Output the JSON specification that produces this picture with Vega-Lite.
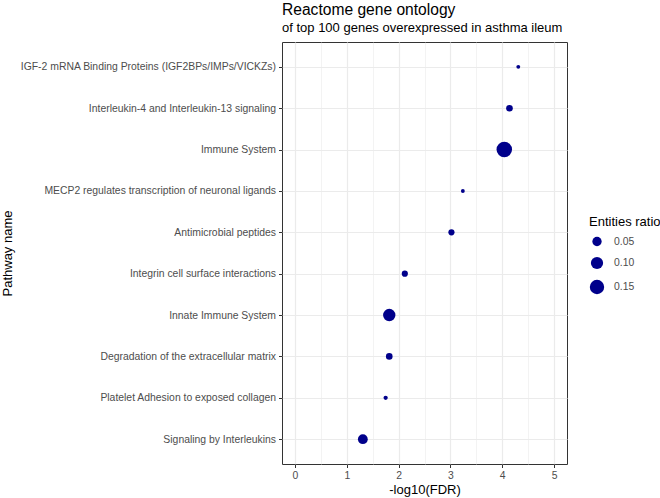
{
  "$schema": "https://vega.github.io/schema/vega-lite/v6.json",
  "width": 285,
  "height": 422,
  "autosize": {"type": "none"},
  "padding": {"left": 282, "top": 42, "right": 93, "bottom": 34},
  "background": "white",
  "data": {
    "values": [
      {"pathway": "IGF-2 mRNA Binding Proteins (IGF2BPs/IMPs/VICKZs)", "neglog10fdr": 4.31, "ratio": 0.002},
      {"pathway": "Interleukin-4 and Interleukin-13 signaling", "neglog10fdr": 4.14, "ratio": 0.019},
      {"pathway": "Immune System", "neglog10fdr": 4.04, "ratio": 0.18},
      {"pathway": "MECP2 regulates transcription of neuronal ligands", "neglog10fdr": 3.24, "ratio": 0.002},
      {"pathway": "Antimicrobial peptides", "neglog10fdr": 3.02, "ratio": 0.015},
      {"pathway": "Integrin cell surface interactions", "neglog10fdr": 2.12, "ratio": 0.015},
      {"pathway": "Innate Immune System", "neglog10fdr": 1.82, "ratio": 0.103},
      {"pathway": "Degradation of the extracellular matrix", "neglog10fdr": 1.82, "ratio": 0.019},
      {"pathway": "Platelet Adhesion to exposed collagen", "neglog10fdr": 1.75, "ratio": 0.0035},
      {"pathway": "Signaling by Interleukins", "neglog10fdr": 1.31, "ratio": 0.057}
    ]
  },
  "title": {
    "text": "Reactome gene ontology",
    "subtitle": "of top 100 genes overexpressed in asthma ileum",
    "anchor": "start",
    "frame": "group",
    "fontSize": 15.6,
    "fontWeight": "normal",
    "color": "black",
    "subtitleFontSize": 13,
    "subtitleColor": "black",
    "subtitlePadding": 3,
    "offset": 7
  },
  "mark": {"type": "circle", "color": "#00008B", "opacity": 1},
  "encoding": {
    "x": {
      "field": "neglog10fdr",
      "type": "quantitative",
      "title": "-log10(FDR)",
      "scale": {"domain": [-0.25, 5.25], "nice": false, "zero": false},
      "axis": {
        "values": [0, 0.5, 1, 1.5, 2, 2.5, 3, 3.5, 4, 4.5, 5],
        "labelExpr": "datum.value % 1 === 0 ? format(datum.value, 'd') : ''",
        "gridWidth": {"condition": {"test": "datum.value % 1 === 0", "value": 1.2}, "value": 0.6},
        "tickOpacity": {"condition": {"test": "datum.value % 1 === 0", "value": 1}, "value": 0},
        "titleY": 29,
        "titleBaseline": "alphabetic"
      }
    },
    "y": {
      "field": "pathway",
      "type": "nominal",
      "sort": null,
      "title": "Pathway name",
      "scale": {"type": "point", "padding": 0.6},
      "axis": {
        "grid": true,
        "gridWidth": 1.2,
        "labelLimit": 0,
        "titleX": -271,
        "titleBaseline": "alphabetic"
      }
    },
    "size": {
      "field": "ratio",
      "type": "quantitative",
      "title": "Entities ratio",
      "scale": {"type": "pow", "exponent": 0.85, "domain": [0, 0.18], "range": [10, 240]},
      "legend": {
        "values": [0.05, 0.1, 0.15],
        "format": ".2f",
        "orient": "none",
        "legendX": 307,
        "legendY": 174,
        "padding": 0,
        "labelOffset": 9,
        "rowPadding": 3,
        "titlePadding": 7,
        "encode": {
          "symbols": {"update": {"size": {"scale": "size", "field": "value", "mult": 1.15}}}
        }
      }
    }
  },
  "config": {
    "font": "Liberation Sans",
    "view": {"stroke": "#333333", "strokeWidth": 1},
    "axis": {
      "domain": false,
      "gridColor": "#EBEBEB",
      "tickColor": "#333333",
      "tickSize": 3.5,
      "tickWidth": 1,
      "labelFontSize": 10.4,
      "labelColor": "#4D4D4D",
      "labelPadding": 3,
      "titleFontSize": 13,
      "titleFontWeight": "normal",
      "titleColor": "black"
    },
    "legend": {
      "titleFontSize": 13,
      "titleFontWeight": "normal",
      "titleColor": "black",
      "labelFontSize": 10.4,
      "labelColor": "#4D4D4D"
    }
  }
}
